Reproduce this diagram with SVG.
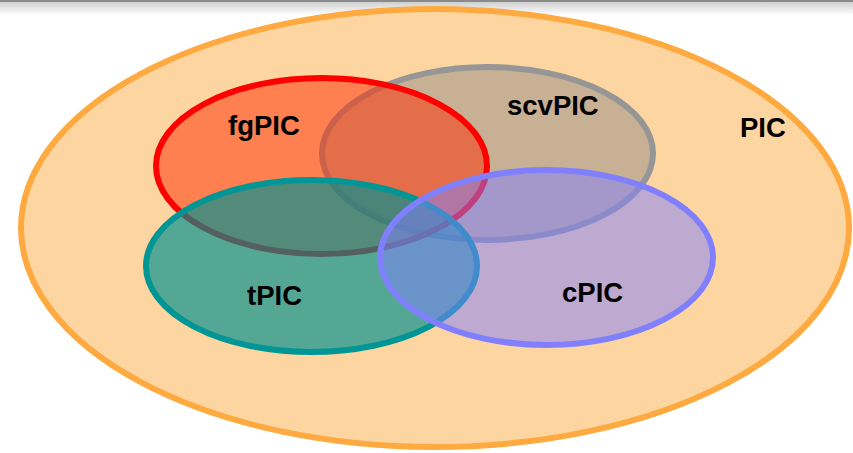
<svg xmlns="http://www.w3.org/2000/svg" width="853" height="453" viewBox="0 0 853 453">
  <defs>
    <linearGradient id="topShade" x1="0" y1="0" x2="0" y2="1">
      <stop offset="0" stop-color="#cfcfcf"/>
      <stop offset="1" stop-color="#ffffff"/>
    </linearGradient>
  </defs>
  <style>
    .set { stroke-width: 6; }
    .label { font-family: "Liberation Sans", Arial, sans-serif; font-weight: bold; font-size: 27.5px; fill: #000; }
  </style>

  <!-- background and slide header shading -->
  <rect x="0" y="0" width="853" height="453" fill="#ffffff"/>
  <rect x="0" y="2" width="853" height="13" fill="url(#topShade)"/>
  <rect x="0" y="0" width="853" height="2" fill="#8a8a8a"/>

  <!-- universe set -->
  <g id="PIC">
    <ellipse class="set" cx="435" cy="228" rx="414" ry="219" fill="#fdd5a0" stroke="#ffaa40"/>
  </g>

  <!-- subsets, drawn bottom to top -->
  <g id="scvPIC">
    <ellipse class="set" cx="487.5" cy="153.5" rx="165.5" ry="86.5" fill="#948c8a" fill-opacity="0.5" stroke="#969696"/>
  </g>
  <g id="fgPIC">
    <ellipse class="set" cx="321.5" cy="166" rx="165.5" ry="88" fill="#ff2900" fill-opacity="0.5" stroke="#ff0000"/>
  </g>
  <g id="tPIC">
    <ellipse class="set" cx="311.5" cy="266" rx="165.5" ry="86" fill="#008f8f" fill-opacity="0.67" stroke="#009696"/>
  </g>
  <g id="cPIC">
    <ellipse class="set" cx="546.5" cy="257.5" rx="166.5" ry="87.5" fill="#8080ff" fill-opacity="0.5" stroke="#8080ff"/>
  </g>

  <!-- set names -->
  <g id="labels">
    <text class="label" x="740" y="137">PIC</text>
    <text class="label" x="507" y="115">scvPIC</text>
    <text class="label" x="228" y="135">fgPIC</text>
    <text class="label" x="247" y="305">tPIC</text>
    <text class="label" x="562" y="302">cPIC</text>
  </g>
</svg>
